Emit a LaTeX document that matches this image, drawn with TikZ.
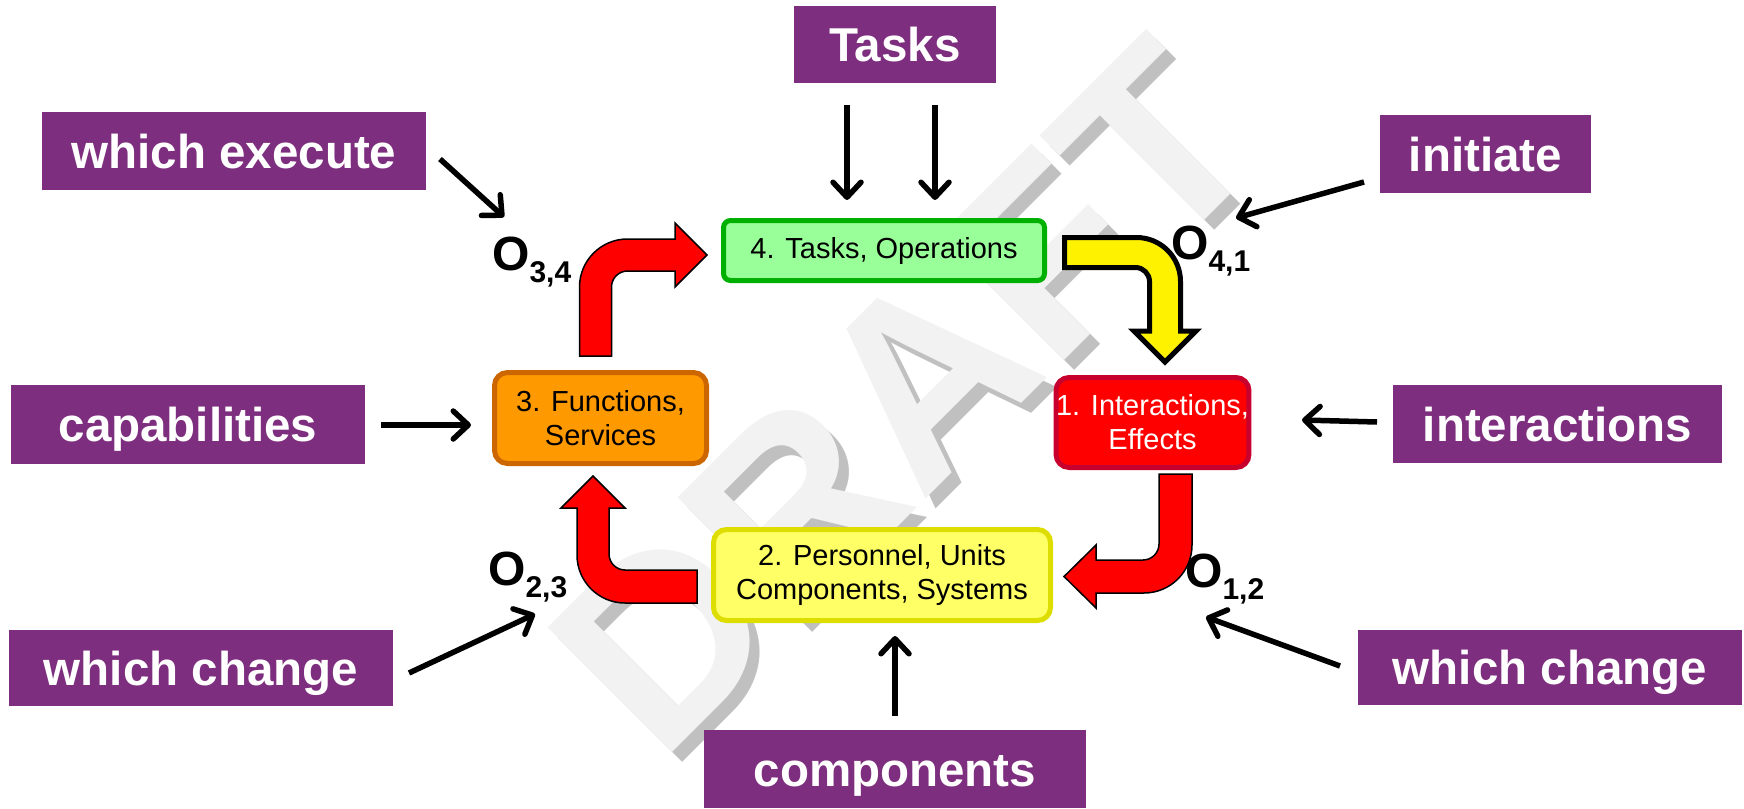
\documentclass[tikz,border=0pt]{standalone}
\usepackage{fontspec}
\setmainfont{Liberation Sans}
\usetikzlibrary{arrows.meta}
\definecolor{purp}{RGB}{126,46,126}
\definecolor{gfill}{RGB}{153,255,153}
\definecolor{gline}{RGB}{0,176,0}
\definecolor{ofill}{RGB}{255,153,0}
\definecolor{oline}{RGB}{204,102,0}
\definecolor{rfill}{RGB}{255,0,0}
\definecolor{rline}{RGB}{200,0,45}
\definecolor{yfill}{RGB}{255,255,102}
\definecolor{yline}{RGB}{221,221,0}
\definecolor{wmlight}{RGB}{242,242,242}
\definecolor{wmdark}{RGB}{192,192,192}
\newcommand\osub[1]{\raisebox{-12pt}{\fontsize{30pt}{30pt}\selectfont\bfseries #1}}
\begin{document}
\begin{tikzpicture}[x=1pt,y=-1pt,
  lab/.style={fill=purp, text=white, inner sep=0pt, font=\fontsize{47.5pt}{50pt}\selectfont\bfseries, text height=34pt, text depth=0pt},
  cbox/.style={line width=5pt, inner sep=0pt, align=center, font=\fontsize{29pt}{34pt}\selectfont},
  olab/.style={anchor=base west, inner sep=0pt, font=\fontsize{48pt}{48pt}\selectfont\bfseries},
  thinarr/.style={line width=5.5pt, -{Straight Barb[length=15pt,width=28pt,round]}},
  blockred/.style={fill=rfill, draw=black, line width=1.5pt, line join=miter},
  blockyel/.style={fill=yellow, draw=black, line width=5pt, line join=miter},
  wm/.style={rotate=45, anchor=base west, inner sep=0pt, font=\fontsize{256pt}{256pt}\selectfont\bfseries}
]
\fill[white] (0,0) rectangle (1744,808);
\useasboundingbox (0,0) rectangle (1744,808);

% watermark
\node[wm, text=wmdark] (wmshadow) at (670,775) {DRAFT};
\node[wm, text=wmlight] (wmtext) at (660,765) {DRAFT};

% purple label boxes
\node[lab, minimum width=202pt, minimum height=77pt] (tasks) at (895,44.5) {Tasks};
\node[lab, minimum width=384pt, minimum height=78pt] (execute) at (234,151) {which execute};
\node[lab, minimum width=211pt, minimum height=78pt] (initiate) at (1485.5,154) {initiate};
\node[lab, minimum width=354pt, minimum height=79pt] (capab) at (188,424.5) {capabilities};
\node[lab, minimum width=329pt, minimum height=78pt] (interact) at (1557.5,424) {interactions};
\node[lab, minimum width=384pt, minimum height=76pt] (changeL) at (201,668) {which change};
\node[lab, minimum width=384pt, minimum height=75pt] (changeR) at (1550,667.5) {which change};
\node[lab, minimum width=382pt, minimum height=78pt] (comps) at (895,769) {components};

% coloured boxes
\node[cbox, fill=gfill, draw=gline, rounded corners=7pt, minimum width=321pt, minimum height=60pt] (n4) at (884,250.5) {4. Tasks, Operations};
\node[cbox, fill=ofill, draw=oline, rounded corners=13pt, minimum width=212pt, minimum height=91pt] (n3) at (600.5,418) {3. Functions,\\Services};
\node[cbox, fill=rfill, draw=rline, text=white, rounded corners=13pt, minimum width=190pt, minimum height=90pt] (n1) at (1152.5,422.5) {1. Interactions,\\Effects};
\node[cbox, fill=yfill, draw=yline, rounded corners=13pt, minimum width=337pt, minimum height=91pt] (n2) at (882,575) {2. Personnel, Units\\Components, Systems};

% block arrows
\path[blockred] (579.5,356) -- (579.5,287) .. controls (579.5,260.5) and (601,239) .. (627.5,239) -- (675,239) -- (675,223) -- (707,255) -- (675,287) -- (675,271) -- (627.5,271) .. controls (618.7,271) and (611.5,278.2) .. (611.5,287) -- (611.5,356) -- cycle;
\path[blockred] (697,570) -- (625,570) .. controls (616.2,570) and (609,562.8) .. (609,554) -- (609,508) -- (625,508) -- (593,476) -- (561,508) -- (577,508) -- (577,555) .. controls (577,581.5) and (598.5,603) .. (625,603) -- (697,603) -- cycle;
\path[blockred] (1159,474) -- (1192,474) -- (1192,545) .. controls (1192,571.5) and (1170.5,593) .. (1144,593) -- (1096,593) -- (1096,608) -- (1064,576.5) -- (1096,545) -- (1096,560) -- (1143,560) .. controls (1151.8,560) and (1159,552.8) .. (1159,544) -- cycle;
\path[blockyel] (1064.5,237.5) -- (1136.5,237.5) .. controls (1160.8,237.5) and (1180.5,257.2) .. (1180.5,281.5) -- (1180.5,331) -- (1196,331) -- (1165,362) -- (1134,331) -- (1149.5,331) -- (1149.5,281.5) .. controls (1149.5,273.8) and (1143.2,267.5) .. (1135.5,267.5) -- (1064.5,267.5) -- cycle;

% O labels
\node[olab] (o34) at (492,270) {O\osub{3,4}};
\node[olab] (o41) at (1171,259) {O\osub{4,1}};
\node[olab] (o23) at (488,585) {O\osub{2,3}};
\node[olab] (o12) at (1185,587) {O\osub{1,2}};

% thin arrows
\coordinate (t1s) at (847,105); \coordinate (t1e) at (847,200);
\coordinate (t2s) at (935,105); \coordinate (t2e) at (935,200);
\coordinate (exs) at (440,159); \coordinate (exe) at (504,217);
\coordinate (ins) at (1364,182); \coordinate (ine) at (1236,218);
\coordinate (cas) at (381,425); \coordinate (cae) at (471,425);
\coordinate (irs) at (1377,422); \coordinate (ire) at (1302,420);
\coordinate (cls) at (409,673); \coordinate (cle) at (535,614);
\coordinate (crs) at (1340,666); \coordinate (cre) at (1206,617);
\coordinate (cos) at (895,716); \coordinate (coe) at (895,636);
\draw[thinarr] (t1s) -- (t1e);
\draw[thinarr] (t2s) -- (t2e);
\draw[thinarr] (exs) -- (exe);
\draw[thinarr] (ins) -- (ine);
\draw[thinarr] (cas) -- (cae);
\draw[thinarr] (irs) -- (ire);
\draw[thinarr] (cls) -- (cle);
\draw[thinarr] (crs) -- (cre);
\draw[thinarr] (cos) -- (coe);
\end{tikzpicture}
\end{document}
